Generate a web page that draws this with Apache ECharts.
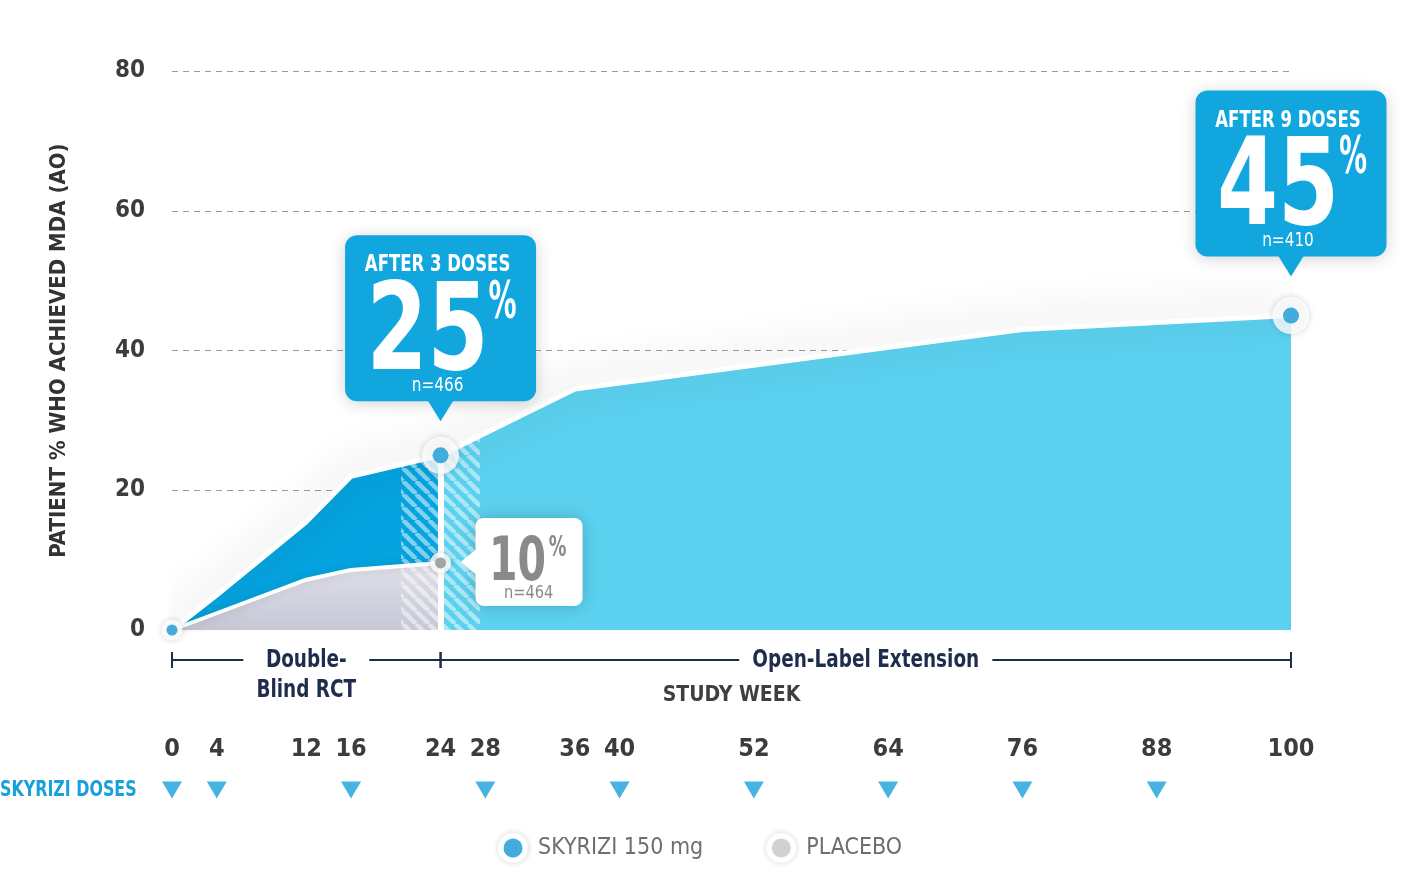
<!DOCTYPE html>
<html>
<head>
<meta charset="utf-8">
<title>MDA (AO) response by study week</title>
<script src="https://cdn.jsdelivr.net/npm/echarts@6/dist/echarts.min.js"></script>
<style>
  html, body { margin: 0; padding: 0; background: #fff; }
  #chart { width: 1412px; height: 876px; }
</style>
</head>
<body>
<div id="chart"></div>
<script>
// values: study week -> % of patients with MDA
const skyriziWeeks = [0, 4, 12, 16, 24, 36, 76, 100]
const skyriziPct = [0, 5, 15.5, 22, 25, 34.5, 43, 45]
const placeboWeeks = [0, 12, 16, 24]
const placeboPct = [0, 7.2, 8.6, 9.6]
const tickWeeks = [0, 4, 12, 16, 24, 28, 36, 40, 52, 64, 76, 88, 100]
const doseWeeks = [0, 4, 16, 28, 40, 52, 64, 76, 88]
const markerWeeks = [0, 24, 100]
const callouts = [
  { week: 24, title: 'AFTER 3 DOSES', pct: '25', n: 'n=466' },
  { week: 100, title: 'AFTER 9 DOSES', pct: '45', n: 'n=410' }
]
const placeboCallout = { week: 24, pct: '10', n: 'n=464' }
const phases = [
  { name: 'Double-\nBlind RCT', from: 0, to: 24, labelAt: 12 },
  { name: 'Open-Label Extension', from: 24, to: 100, labelAt: 62 }
]
const doseRow = 'SKYRIZI DOSES'

// layout / style
const FONT = "'DejaVu Sans Condensed', 'Liberation Sans Narrow', sans-serif"
const PLOT = { left: 172, right: 1291, top: 71, bottom: 630 }
const W = 1412
const H = 876
const HATCH = [20.5, 27.4] // weeks covered by the striped band
const CALLOUT_GAP = [54, 59]
const BLUE = '#12a6de'
const DOT = '#1598d6'
const GREY_DOT = '#8f8f8f'

const wx = w => PLOT.left + (PLOT.right - PLOT.left) * w / 100
const pairs = (xs, ys) => xs.map((x, i) => [x, ys[i]])
const sky = pairs(skyriziWeeks, skyriziPct)
const plc = pairs(placeboWeeks, placeboPct)
const skyAt = w => skyriziPct[skyriziWeeks.indexOf(w)]
const plcAt = w => placeboPct[placeboWeeks.indexOf(w)]

function stripes () {
  const s = 13
  const c = document.createElement('canvas')
  c.width = s
  c.height = s
  const ctx = c.getContext('2d')
  ctx.strokeStyle = 'rgba(255,255,255,0.5)'
  ctx.lineWidth = 4.5
  for (const o of [-s, 0, s]) {
    ctx.beginPath()
    ctx.moveTo(o, 0)
    ctx.lineTo(o + s, s)
    ctx.stroke()
  }
  return c
}

// legend marker: white ring with a coloured dot
function legendIcon (color) {
  const c = document.createElement('canvas')
  c.width = 40
  c.height = 40
  const ctx = c.getContext('2d')
  ctx.shadowColor = 'rgba(0,0,0,0.22)'
  ctx.shadowBlur = 6
  ctx.fillStyle = '#fff'
  ctx.beginPath()
  ctx.arc(20, 20, 15, 0, Math.PI * 2)
  ctx.fill()
  ctx.shadowColor = 'transparent'
  ctx.fillStyle = color
  ctx.beginPath()
  ctx.arc(20, 20, 9.5, 0, Math.PI * 2)
  ctx.fill()
  return 'image://' + c.toDataURL()
}

const chart = echarts.init(document.getElementById('chart'))

chart.setOption({
  backgroundColor: '#ffffff',
  animation: false,
  textStyle: { fontFamily: FONT },
  grid: [
    { left: PLOT.left, right: W - PLOT.right, top: PLOT.top, bottom: H - PLOT.bottom, outerBoundsMode: 'none' },
    { left: wx(HATCH[0]), right: W - wx(HATCH[1]), top: PLOT.top, bottom: H - PLOT.bottom, outerBoundsMode: 'none' },
    { left: PLOT.left, right: W - PLOT.right, top: 780, height: 20, outerBoundsMode: 'none' }
  ],
  legend: {
    left: 488,
    top: 823,
    itemWidth: 40,
    itemHeight: 40,
    itemGap: 58,
    textStyle: { fontSize: 23, color: '#6e6e6e', fontFamily: FONT, padding: [0, 0, 0, 0] },
    data: [
      { name: 'SKYRIZI 150 mg', icon: legendIcon(DOT) },
      { name: 'PLACEBO', icon: legendIcon('#c6c6c6') }
    ]
  },
  xAxis: [
    {
      gridIndex: 0,
      type: 'value',
      min: 0,
      max: 100,
      axisLine: { show: false },
      axisTick: { show: false },
      splitLine: { show: false },
      axisLabel: {
        customValues: tickWeeks,
        margin: 107,
        fontSize: 25,
        fontWeight: 'bold',
        color: '#3c3c3c'
      },
      name: 'STUDY WEEK',
      nameLocation: 'middle',
      nameGap: 55,
      nameMoveOverlap: false,
      nameTextStyle: { fontSize: 21, fontWeight: 'bold', color: '#3f3f3f' }
    },
    { gridIndex: 1, type: 'value', min: HATCH[0], max: HATCH[1], show: false },
    { gridIndex: 2, type: 'value', min: 0, max: 100, show: false }
  ],
  yAxis: [
    {
      gridIndex: 0,
      type: 'value',
      min: 0,
      max: 80,
      interval: 20,
      axisLine: { show: false },
      axisTick: { show: false },
      axisLabel: { margin: 27, fontSize: 24, fontWeight: 'bold', color: '#3c3c3c' },
      splitLine: { showMinLine: false, lineStyle: { color: '#9a9a9a', type: [6, 5], width: 1 } },
      name: 'PATIENT % WHO ACHIEVED MDA (AO)',
      nameLocation: 'middle',
      nameRotate: 90,
      nameGap: 102,
      nameMoveOverlap: false,
      nameTextStyle: { fontSize: 22, fontWeight: 'bold', color: '#333' }
    },
    { gridIndex: 1, type: 'value', min: 0, max: 80, show: false },
    {
      gridIndex: 2,
      type: 'category',
      data: [doseRow],
      axisLine: { show: false },
      axisTick: { show: false },
      axisLabel: { show: false }
    }
  ],
  series: [
    {
      // dark fill, double-blind part
      type: 'line',
      data: sky.filter(p => p[0] <= 24),
      symbol: 'none',
      lineStyle: { width: 0 },
      areaStyle: { color: '#05a3df', opacity: 1 },
      z: 2
    },
    {
      // light fill, open-label part
      type: 'line',
      data: sky.filter(p => p[0] >= 24),
      symbol: 'none',
      lineStyle: { width: 0 },
      areaStyle: { color: '#5bd1ef', opacity: 1 },
      z: 2
    },
    {
      type: 'line',
      data: plc,
      symbol: 'none',
      lineStyle: { width: 0 },
      areaStyle: {
        opacity: 1,
        color: new echarts.graphic.LinearGradient(0, 0, 0, 1, [
          { offset: 0, color: '#dedfe9' },
          { offset: 1, color: '#c7c8d6' }
        ])
      },
      z: 3
    },
    {
      // striped band around week 24
      type: 'line',
      xAxisIndex: 1,
      yAxisIndex: 1,
      data: sky,
      symbol: 'none',
      lineStyle: { width: 0 },
      areaStyle: { color: { image: stripes(), repeat: 'repeat' }, opacity: 1 },
      z: 4
    },
    {
      type: 'line',
      data: plc,
      symbol: 'none',
      lineStyle: { color: '#fff', width: 4, shadowBlur: 10, shadowColor: 'rgba(0,0,0,0.12)' },
      z: 5
    },
    {
      type: 'line',
      data: sky,
      symbol: 'none',
      lineStyle: { color: '#fff', width: 5, shadowBlur: 40, shadowColor: 'rgba(0,0,0,0.3)', shadowOffsetY: -7 },
      markLine: {
        silent: true,
        symbol: 'none',
        label: { show: false },
        lineStyle: { color: '#fff', width: 6, type: 'solid' },
        data: [[{ coord: [24, 0] }, { coord: [24, skyAt(24)] }]]
      },
      z: 5
    },
    {
      // white rings under the dots
      type: 'scatter',
      data: markerWeeks.map(w => ({ value: [w, skyAt(w)], symbolSize: w === 0 ? 21 : 37 }))
        .concat([{ value: [placeboCallout.week, plcAt(placeboCallout.week)], symbolSize: 21 }]),
      itemStyle: { color: '#fff', shadowBlur: 6, shadowColor: 'rgba(0,0,0,0.2)' },
      emphasis: { disabled: true },
      silent: true,
      z: 6
    },
    {
      name: 'SKYRIZI 150 mg',
      type: 'scatter',
      data: markerWeeks.map(w => ({ value: [w, skyAt(w)], symbolSize: w === 0 ? 11 : 16 })),
      itemStyle: { color: DOT },
      emphasis: { disabled: true },
      z: 7
    },
    {
      name: 'PLACEBO',
      type: 'scatter',
      data: [[placeboCallout.week, plcAt(placeboCallout.week)]],
      symbolSize: 11,
      itemStyle: { color: GREY_DOT },
      emphasis: { disabled: true },
      z: 7
    },
    {
      type: 'scatter',
      xAxisIndex: 2,
      yAxisIndex: 2,
      data: doseWeeks.map(w => [w, doseRow]),
      symbol: 'triangle',
      symbolRotate: 180,
      symbolSize: [20, 17],
      itemStyle: { color: '#18a0dc' },
      z: 7
    }
  ]
})

function txt (x, y, text, size, weight, fill, sx) {
  return {
    type: 'text',
    x: x,
    y: y,
    scaleX: sx || 1,
    z: 101,
    silent: true,
    style: {
      text: text,
      fontSize: size,
      fontWeight: weight,
      fontFamily: FONT,
      fill: fill,
      align: 'center',
      verticalAlign: 'middle'
    }
  }
}

const g = []
callouts.forEach((c, k) => {
  const [px, py] = chart.convertToPixel({ gridIndex: 0 }, [c.week, skyAt(c.week)])
  const w = 191
  const h = 166
  const bottom = py - CALLOUT_GAP[k]
  const left = px - w / 2
  const top = bottom - h
  g.push({
    type: 'rect', z: 100, silent: true,
    shape: { x: left, y: top, width: w, height: h, r: 12 },
    style: { fill: BLUE, shadowBlur: 16, shadowColor: 'rgba(0,0,0,0.18)', shadowOffsetY: 2 }
  })
  g.push({
    type: 'polygon', z: 100, silent: true,
    shape: { points: [[px - 13, bottom - 1], [px + 13, bottom - 1], [px, bottom + 20]] },
    style: { fill: BLUE }
  })
  g.push(txt(px - 3, top + 30, c.title, 23, 'bold', '#fff', 0.8))
  g.push(txt(px - 13, top + 102, c.pct, 122, 'bold', '#fff', 0.8))
  g.push(txt(px + 62, top + 69, '%', 52, 'bold', '#fff', 0.6))
  g.push(txt(px - 3, top + 150, c.n, 20, 'normal', '#fff', 0.85))
})

{
  const [px, py] = chart.convertToPixel({ gridIndex: 0 }, [placeboCallout.week, plcAt(placeboCallout.week)])
  const left = px + 35
  const top = py - 45
  g.push({
    type: 'rect', z: 100, silent: true,
    shape: { x: left, y: top, width: 107, height: 88, r: 8 },
    style: { fill: '#fff', shadowBlur: 16, shadowColor: 'rgba(0,0,0,0.2)' }
  })
  g.push({
    type: 'polygon', z: 100, silent: true,
    shape: { points: [[left + 1, py - 14], [left + 1, py + 12], [px + 20, py - 1]] },
    style: { fill: '#fff' }
  })
  g.push(txt(left + 42, top + 46, placeboCallout.pct, 60, 'bold', '#8a8a8a', 0.76))
  g.push(txt(left + 82, top + 31, '%', 28, 'bold', '#8a8a8a', 0.7))
  g.push(txt(left + 53, top + 75, placeboCallout.n, 18, 'normal', '#8a8a8a', 0.9))
}

// study phase brackets under the axis
const by = 660
const navy = '#1f2d4d'
phases.forEach(p => {
  const x0 = chart.convertToPixel({ xAxisIndex: 0 }, p.from)
  const x1 = chart.convertToPixel({ xAxisIndex: 0 }, p.to)
  const xm = chart.convertToPixel({ xAxisIndex: 0 }, p.labelAt)
  g.push({ type: 'line', z: 50, silent: true, shape: { x1: x0, y1: by, x2: x1, y2: by }, style: { stroke: navy, lineWidth: 2 } })
  g.push({ type: 'line', z: 50, silent: true, shape: { x1: x0, y1: by - 8, x2: x0, y2: by + 8 }, style: { stroke: navy, lineWidth: 2 } })
  g.push({ type: 'line', z: 50, silent: true, shape: { x1: x1, y1: by - 8, x2: x1, y2: by + 8 }, style: { stroke: navy, lineWidth: 2 } })
  const two = p.name.indexOf('\n') >= 0
  const t = txt(xm, two ? by + 15 : by, p.name, 25, 'bold', navy, 0.82)
  t.style.backgroundColor = '#fff'
  t.style.padding = [0, 16]
  t.style.lineHeight = 30
  g.push(t)
})

// dose row caption, placed on the dose row of the third grid
{
  const ry = chart.convertToPixel({ yAxisIndex: 2 }, doseRow)
  const t = txt(0, ry + 1, doseRow, 21, 'bold', '#18a0dc', 0.84)
  t.style.align = 'left'
  g.push(t)
}

chart.setOption({ graphic: g })
</script>
</body>
</html>
